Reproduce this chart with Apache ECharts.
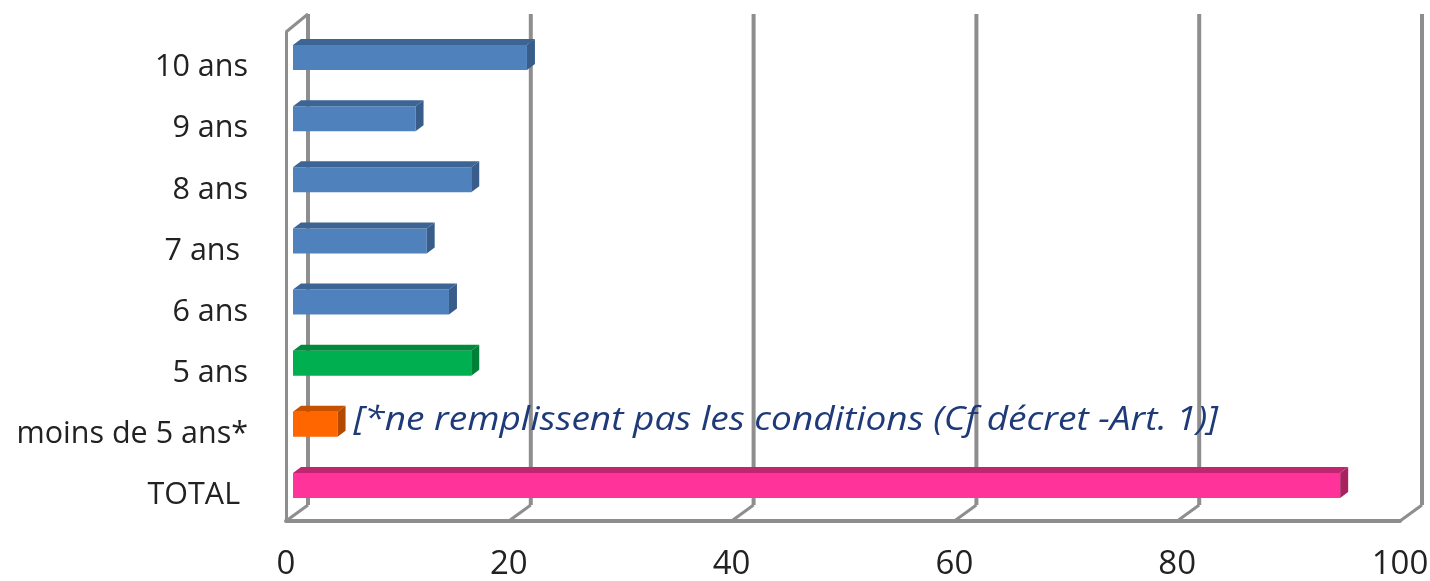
<!DOCTYPE html>
<html><head><meta charset="utf-8">
<style>html,body{margin:0;padding:0;background:#fff}#c{width:1430px;height:581px}</style>
<script src="https://cdn.jsdelivr.net/npm/echarts@6/dist/echarts.min.js"></script>
</head><body><div id="c"></div>
<script>
const categories = ['10 ans','9 ans','8 ans','7 ans ','6 ans','5 ans','moins de 5 ans*','TOTAL '];
const values = [21,11,16,12,14,16,4,94];
const axisTicks = [0,20,40,60,80,100];
const note = '[*ne remplissent pas les conditions (Cf décret -Art. 1)]';
const noteCategory = 6;

const FONT = '"Open Sans"';
const GRAY = '#8e8e8e';
const faces = {
  blue:  ['#4f81bd','#3c6494','#385d8a'],
  green: ['#00b050','#008a3e','#007f39'],
  orange:['#ff6600','#c65200','#b34a00'],
  pink:  ['#ff3399','#c0266f','#a8225f']
};
const faceFor = i => i === 5 ? faces.green : i === 6 ? faces.orange : i === 7 ? faces.pink : faces.blue;
const DX = 22, DY = 16;      // wall depth
const BX = 7, BY = 5;        // bar offset from the front plane
const SX = 8, SY = 6;        // bar depth
const BH = 25;

function frameItem(params, api){
  const v = api.value(0);
  const x = api.coord([v, 0])[0];
  const cs = params.coordSys;
  const top = cs.y, bot = cs.y + cs.height;
  const ch = [
    {type:'line', shape:{x1:x+DX,y1:top-DY-2,x2:x+DX,y2:bot-DY}, style:{stroke:GRAY,lineWidth:4,fill:null}},
    {type:'line', shape:{x1:x,y1:bot,x2:x+DX,y2:bot-DY}, style:{stroke:GRAY,lineWidth:3,fill:null}}
  ];
  if (v === axisTicks[0]) ch.push({type:'line', shape:{x1:x,y1:top,x2:x+DX,y2:top-DY-2}, style:{stroke:GRAY,lineWidth:3,fill:null}});
  return {type:'group', children: ch};
}

function barItem(params, api){
  const i = params.dataIndex;
  const v = api.value(0);
  const c = api.coord([v, i]);
  const x0 = api.coord([0, i])[0] + BX;
  const x1 = c[0] + BX;
  const y0 = c[1] - BY - BH/2, y1 = y0 + BH;
  const f = faceFor(i);
  const ch = [
    {type:'rect', shape:{x:x0,y:y0,width:x1-x0,height:BH}, style:{fill:f[0]}},
    {type:'polygon', shape:{points:[[x0,y0],[x0+SX,y0-SY],[x1+SX,y0-SY],[x1,y0]]}, style:{fill:f[1]}},
    {type:'polygon', shape:{points:[[x1,y0],[x1+SX,y0-SY],[x1+SX,y1-SY],[x1,y1]]}, style:{fill:f[2]}}
  ];
  if (i === noteCategory) ch.push({type:'text', x:x1+SX+8, y:c[1]-8, scaleX:1.157, style:{
    text:note, font:'italic 32px '+FONT, fill:'#1f3a78', align:'left', verticalAlign:'middle'}});
  return {type:'group', children: ch};
}

const chart = echarts.init(document.getElementById('c'), null, {renderer:'canvas'});
chart.setOption({
  animation:false,
  backgroundColor:'#fff',
  grid:{left:286, top:32, width:1114, height:489, containLabel:false, outerBoundsMode:'none'},
  xAxis:{type:'value', min:0, max:100, interval:20,
    axisLine:{show:true, onZero:false, lineStyle:{color:GRAY,width:4}},
    axisTick:{show:false}, splitLine:{show:false},
    axisLabel:{color:'#222', fontFamily:FONT, fontSize:33, margin:27,
      showMinLabel:true, showMaxLabel:true, alignMinLabel:'center', alignMaxLabel:'center'}},
  yAxis:{type:'category', inverse:true, data:categories,
    axisLine:{show:true, lineStyle:{color:GRAY,width:3}},
    axisTick:{show:false}, splitLine:{show:false},
    axisLabel:{color:'#222', fontFamily:FONT, fontSize:30.5, margin:38, verticalAlign:'top', lineHeight:10}},
  series:[
    {type:'custom', silent:true, clip:false, z:1, renderItem:frameItem,
      encode:{x:0}, data:axisTicks.map(t=>[t,0])},
    {type:'custom', silent:true, clip:false, z:2, renderItem:barItem,
      encode:{x:0,y:1}, data:values.map((v,i)=>[v,i])}
  ]
});
</script></body></html>
